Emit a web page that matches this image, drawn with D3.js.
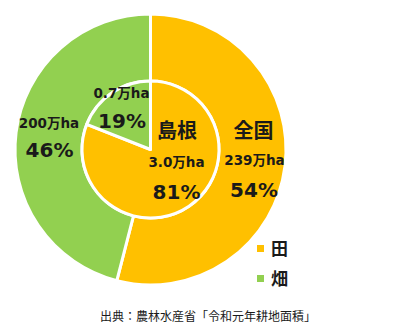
<!DOCTYPE html>
<html><head><meta charset="utf-8">
<script src="https://cdn.jsdelivr.net/npm/d3@7"></script>
<style>
html,body{margin:0;padding:0;background:#fff;}
svg{display:block;}
text{font-family:"DejaVu Sans","Noto Sans CJK JP",sans-serif;fill:#1a1a1a;}
</style></head>
<body>
<svg id="chart" width="418" height="332"></svg>
<script>
const categories = ["田", "畑"];
const colors = ["#FFC000", "#92D050"];
const nationalArea = ["239万ha", "200万ha"];
const nationalPct = [54, 46];
const shimaneArea = ["3.0万ha", "0.7万ha"];
const shimanePct = [81, 19];
const outerLabel = "全国";
const innerLabel = "島根";
const caption = "出典：農林水産省「令和元年耕地面積」";

const svg = d3.select("#chart");
const cx = 150.5, cy = 149.5, rOuter = 135.5, rInner = 68.5;
const g = svg.append("g").attr("transform", `translate(${cx},${cy})`);
const pie = d3.pie().sort(null).value(d => d);

const outerArc = d3.arc().innerRadius(rInner).outerRadius(rOuter);
g.selectAll("path.outer").data(pie(nationalPct)).join("path")
  .attr("class", "outer").attr("d", outerArc)
  .attr("fill", (d, i) => colors[i]).attr("stroke", "#fff").attr("stroke-width", 3);

const innerArc = d3.arc().innerRadius(0).outerRadius(rInner);
g.selectAll("path.inner").data(pie(shimanePct)).join("path")
  .attr("class", "inner").attr("d", innerArc)
  .attr("fill", (d, i) => colors[i]).attr("stroke", "#fff").attr("stroke-width", 3)
  .attr("stroke-linejoin", "round");

function label(x, y, txt, size) {
  svg.append("text").attr("x", x).attr("y", y).attr("text-anchor", "middle")
    .attr("font-size", size).attr("font-weight", "bold").text(txt);
}
// national
label(253.5, 138, outerLabel, 20);
label(254.5, 165, nationalArea[0], 13.5);
label(254, 197, nationalPct[0] + "%", 20);
label(49, 128, nationalArea[1], 13.5);
label(49.5, 157, nationalPct[1] + "%", 20);
// shimane
label(177, 138, innerLabel, 20);
label(176.5, 167, shimaneArea[0], 13.5);
label(176.5, 199, shimanePct[0] + "%", 20);
label(121.5, 98, shimaneArea[1], 13.5);
label(122, 128, shimanePct[1] + "%", 20);

// legend
const leg = svg.append("g");
categories.forEach((c, i) => {
  const y = 245 + i * 30;
  leg.append("rect").attr("x", 257).attr("y", y).attr("width", 7).attr("height", 7).attr("fill", colors[i]);
  leg.append("text").attr("x", 271).attr("y", y + 10).attr("font-size", 17)
    .attr("font-weight", "bold").style("font-family", "'Noto Sans CJK JP',sans-serif").text(c);
});

svg.append("text").attr("x", 208).attr("y", 321).attr("text-anchor", "middle")
  .attr("font-size", 12).style("font-family", "'Noto Sans CJK JP',sans-serif").attr("fill", "#222")
  .text(caption);
</script>
</body></html>
